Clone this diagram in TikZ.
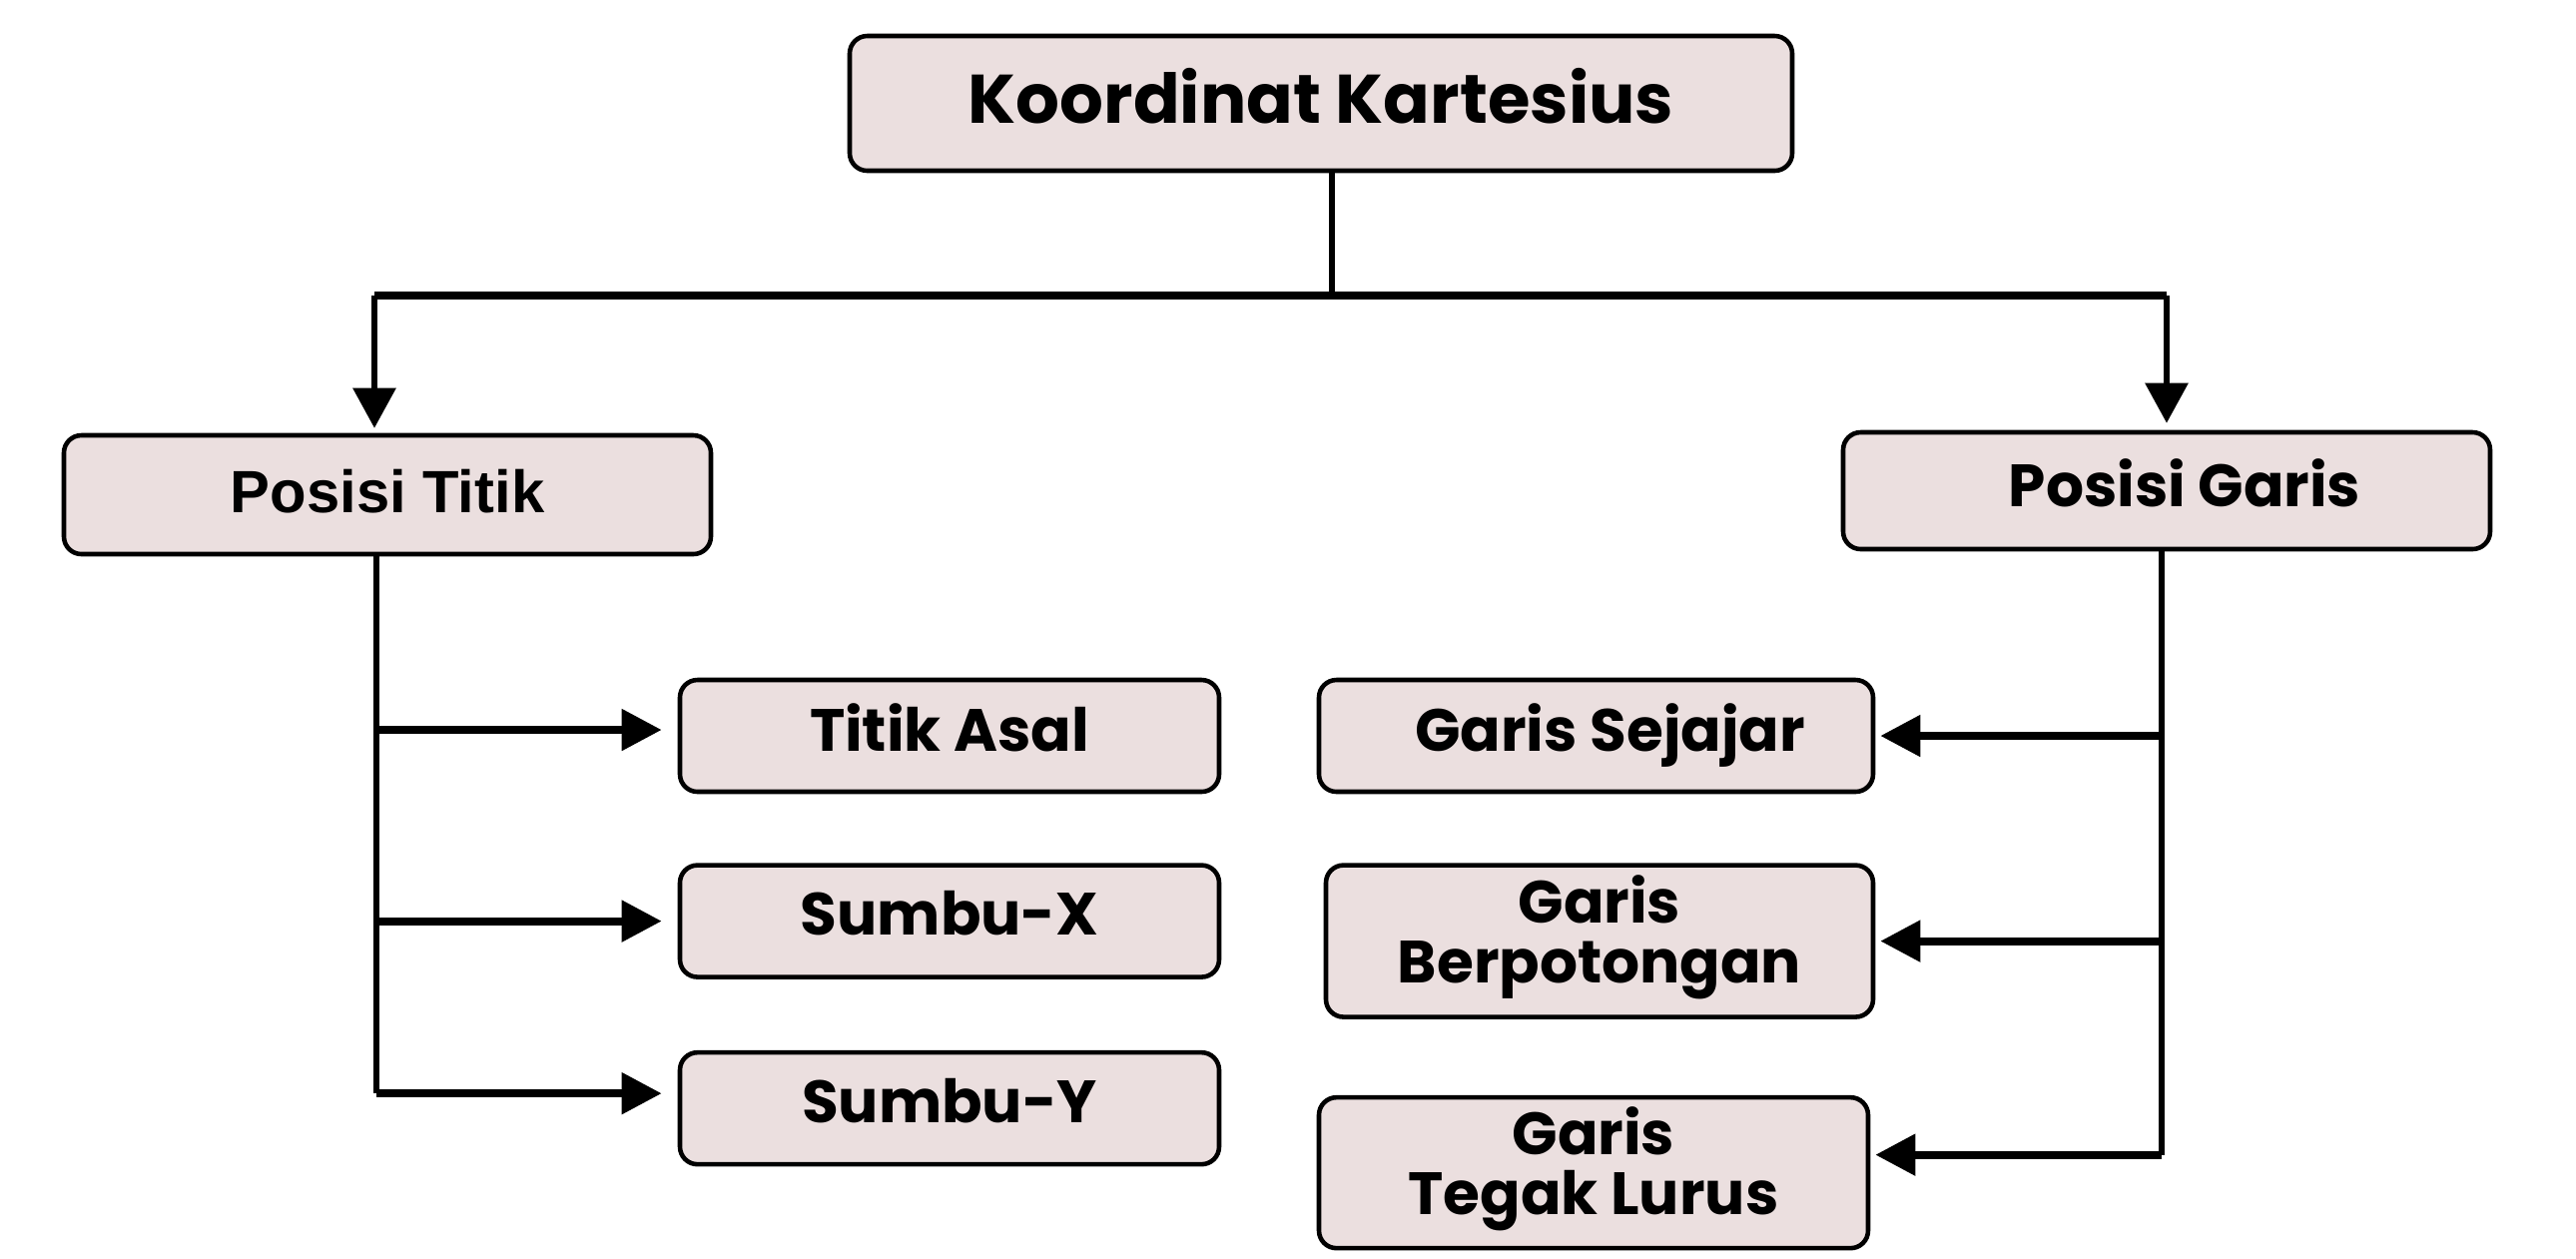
\documentclass[tikz,border=0pt]{standalone}
\usepackage{fontspec}
\setmainfont{Poppins}
\newfontfamily\titikfont{Liberation Sans}
\usepackage{xcolor}
\usepackage{tikz}
\usetikzlibrary{arrows.meta,positioning,calc}
\definecolor{boxfill}{HTML}{EBDFDF}

\tikzset{
  box/.style={draw, line width=1.3pt, rounded corners=5pt, fill=boxfill, align=center,
    inner sep=0pt, text depth=0.16cm, font=\bfseries\fontsize{17}{17}\selectfont},
  twoline/.style={text depth=0.24cm},
  trunk/.style={line width=1.7pt},
  branch/.style={line width=2.3pt, -{Triangle[length=0.4cm,width=0.4cm]}},
}

\begin{document}
\begin{tikzpicture}
  \useasboundingbox (0,0) rectangle (25.8,-12.6);
  % root
  \node[box, minimum width=9.44cm, minimum height=1.35cm, font=\bfseries\fontsize{19.6}{20}\selectfont] (root) at (13.23,-1.035) {Koordinat Kartesius};
  \node[box, minimum width=6.48cm, minimum height=1.19cm, text depth=0.08cm, font=\titikfont\bfseries\fontsize{17}{17}\selectfont] (titik) at (3.88,-4.955) {Posisi Titik};
  \node[box, minimum width=6.48cm, minimum height=1.17cm] (garis) at (21.70,-4.915) {\hspace*{0.36cm}Posisi Garis};

  % left column
  \node[box, minimum width=5.40cm, minimum height=1.12cm] (asal) at (9.51,-7.37) {Titik Asal};
  \node[box, minimum width=5.40cm, minimum height=1.12cm, below=0.69cm of asal] (sumbux) {Sumbu-X};
  \node[box, minimum width=5.40cm, minimum height=1.12cm, below=0.71cm of sumbux] (sumbuy) {Sumbu-Y};

  % right column
  \node[box, minimum width=5.55cm, minimum height=1.12cm] (sejajar) at (15.985,-7.37) {\hspace*{0.28cm}Garis Sejajar};
  \node[box, twoline, minimum width=5.48cm, minimum height=1.52cm, below=0.69cm of sejajar.south east, anchor=north east] (potong) {Garis\\Berpotongan};
  \node[box, twoline, minimum width=5.50cm, minimum height=1.51cm, below=0.76cm of potong.south east, anchor=north east, xshift=-0.05cm] (tegak) {Garis\\Tegak Lurus};

  % top connectors
  \draw[trunk] ([xshift=0.11cm]root.south) -- ++(0,-1.23) coordinate (hub);
  \draw[line width=2.3pt] ([xshift=-0.13cm]titik.north |- hub) -- (garis.north |- hub);
  \draw[trunk, -{Triangle[length=0.4cm,width=0.42cm]}] ([xshift=-0.13cm]titik.north |- hub) -- ([xshift=-0.13cm,yshift=0.05cm]titik.north);
  \draw[trunk, -{Triangle[length=0.4cm,width=0.42cm]}] (garis.north |- hub) -- ([yshift=0.07cm]garis.north);

  % left branches
  \draw[trunk] ([xshift=-0.11cm]titik.south) -- ([xshift=-0.11cm,yshift=0.15cm]titik.south |- sumbuy.west);
  \draw[branch, shorten >=0.16cm] ([xshift=-0.11cm,yshift=0.06cm]titik.south |- asal.west) -- ([yshift=0.06cm]asal.west);
  \draw[branch, shorten >=0.16cm] ([xshift=-0.11cm]titik.south |- sumbux.west) -- (sumbux.west);
  \draw[branch, shorten >=0.16cm] ([xshift=-0.11cm,yshift=0.15cm]titik.south |- sumbuy.west) -- ([yshift=0.15cm]sumbuy.west);

  % right branches
  \draw[trunk] ([xshift=-0.05cm]garis.south) -- ([xshift=-0.05cm,yshift=0.18cm]garis.south |- tegak.east);
  \foreach \n/\dy in {sejajar/0, potong/0, tegak/0.18}
    \draw[branch, shorten >=0.05cm] ([xshift=-0.05cm,yshift=\dy cm]garis.south |- \n.east) -- ([yshift=\dy cm]\n.east);
\end{tikzpicture}
\end{document}
